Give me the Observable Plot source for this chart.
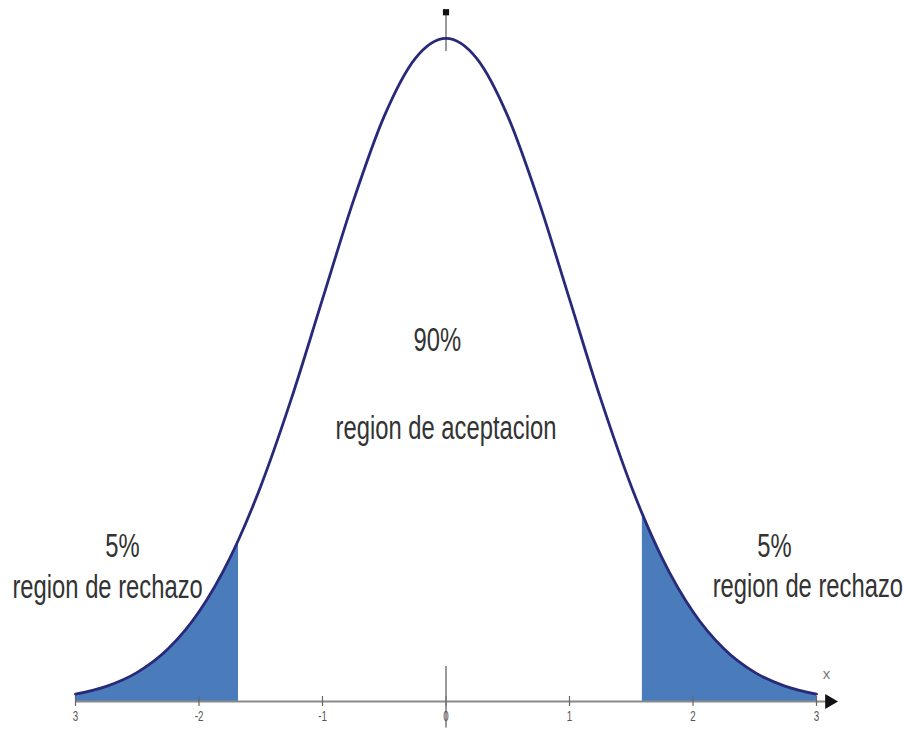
<!DOCTYPE html>
<html>
<head>
<meta charset="utf-8">
<script src="https://cdn.jsdelivr.net/npm/d3@7"></script>
<script src="https://cdn.jsdelivr.net/npm/@observablehq/plot@0.6"></script>
<style>
  html, body { margin: 0; padding: 0; background: #fff; }
  #chart svg { display: block; }
</style>
</head>
<body>
<div id="chart"></div>
<script>
// Curve points (x in z units, y = density height)
const curveX = [-3, -2.75, -2.5, -2.25, -2, -1.75, -1.68, -1.5, -1.25, -1, -0.75, -0.5, -0.25, 0, 0.25, 0.5, 0.75, 1, 1.25, 1.5, 1.59, 1.75, 2, 2.25, 2.5, 2.75, 3];
const curveY = [0.0044, 0.0091, 0.0175, 0.0317, 0.0540, 0.0863, 0.0973, 0.1295, 0.1826, 0.2420, 0.3011, 0.3521, 0.3867, 0.3989, 0.3867, 0.3521, 0.3011, 0.2420, 0.1826, 0.1295, 0.1127, 0.0863, 0.0540, 0.0317, 0.0175, 0.0091, 0.0044];

// Rejection boundaries as drawn
const leftCut = -1.68;
const rightCut = 1.59;

// Axis tick values and labels
const tickValues = [-3, -2, -1, 0, 1, 2, 3];
const tickLabels = ["3", "-2", "-1", "0", "1", "2", "3"];

// Annotations
const annoText = ["90%", "region de aceptacion", "5%", "region de rechazo", "5%", "region de rechazo"];
const annoX = [-0.07, 0.0, -2.62, -2.74, 2.66, 2.93];
const annoY = [0.211, 0.158, 0.087, 0.062, 0.087, 0.063];

const curve = curveX.map((x, i) => ({x, y: curveY[i]}));
const leftTail = curve.filter(d => d.x <= leftCut + 1e-9);
const rightTail = curve.filter(d => d.x >= rightCut - 1e-9);
const ticks = tickValues.map((v, i) => ({v, label: tickLabels[i]}));
const annos = annoText.map((t, i) => ({t, x: annoX[i], y: annoY[i]}));

const font = "'Liberation Sans', Arial, sans-serif";

const plot = Plot.plot({
  width: 904,
  height: 730,
  x: {domain: [-3, 3], range: [75, 816], axis: null},
  y: {domain: [0, 0.4], range: [701, 36], axis: null},
  style: {fontFamily: font, background: "#fff"},
  marks: [
    Plot.areaY(leftTail, {x: "x", y: "y", fill: "#4a7cbc", curve: "monotone-x"}),
    Plot.areaY(rightTail, {x: "x", y: "y", fill: "#4a7cbc", curve: "monotone-x"}),
    Plot.ruleY([0], {x1: -3, x2: 3.1, stroke: "#8a8a8a", strokeWidth: 2}),
    Plot.dot([{x: 3.105, y: 0}], {x: "x", y: "y", symbol: "triangle", rotate: 90, r: 5.5, fill: "#111", stroke: "none"}),
    Plot.ruleX(ticks, {x: "v", y1: -0.003, y2: 0.003, stroke: "#666", strokeWidth: 1.2}),
    Plot.ruleX([0], {y1: -0.016, y2: 0.021, stroke: "#777", strokeWidth: 1.5}),
    Plot.ruleX([0], {y1: 0.391, y2: 0.4146, stroke: "#777", strokeWidth: 1.5}),
    Plot.dot([{x: 0, y: 0.4146}], {x: "x", y: "y", symbol: "square", r: 3.5, fill: "#111", stroke: "none"}),
    Plot.line(curve, {x: "x", y: "y", stroke: "#29297a", strokeWidth: 2.8, curve: "monotone-x"}),
    Plot.text(ticks, {x: "v", y: -0.0115, text: "label", fontSize: 14, fill: "#555"}),
    Plot.text([{x: 3.08, y: 0.0165}], {x: "x", y: "y", text: () => "x", fontSize: 15, fill: "#777"}),
    Plot.text(annos, {x: "x", y: "y", text: "t", fontSize: 34, fill: "#333"})
  ]
});
document.getElementById("chart").appendChild(plot);

// Narrow the lettering horizontally, as in the reference
const annoSet = new Set(annoText);
const tickSet = new Set(tickLabels);
d3.select(plot).selectAll("text").each(function() {
  const el = this;
  const txt = el.textContent;
  let sx = null;
  if (annoSet.has(txt)) sx = 0.70;
  else if (tickSet.has(txt)) sx = 0.7;
  if (sx == null) return;
  const t = el.getAttribute("transform") || "";
  const x = +el.getAttribute("x") || 0;
  const y = +el.getAttribute("y") || 0;
  el.removeAttribute("x");
  el.removeAttribute("y");
  el.setAttribute("transform", `${t} translate(${x},${y}) scale(${sx},1)`);
});
</script>
</body>
</html>
